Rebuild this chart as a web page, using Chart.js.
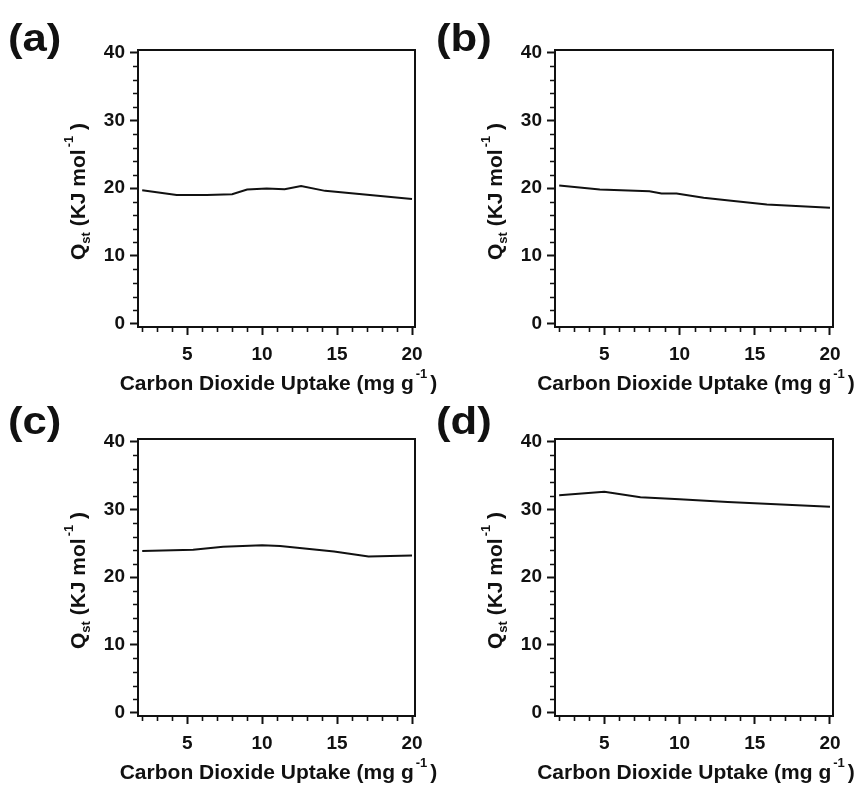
<!DOCTYPE html>
<html><head><meta charset="utf-8">
<script src="https://cdn.jsdelivr.net/npm/chart.js@4.4.0/dist/chart.umd.min.js"></script>
<style>
html,body{margin:0;padding:0;background:#fff;}
#wrap{position:relative;width:857px;height:789px;overflow:hidden;background:#fff;}
canvas{position:absolute;left:0;top:0;}
.lbl{position:absolute;font-family:"Liberation Sans",Arial,sans-serif;font-weight:bold;font-size:39px;line-height:1;color:#111;transform-origin:0 0;transform:scale(1.12,1);}
</style></head><body>
<div id="wrap">
<canvas id="ca" width="857" height="789"></canvas>
<canvas id="cb" width="857" height="789"></canvas>
<canvas id="cc" width="857" height="789"></canvas>
<canvas id="cd" width="857" height="789"></canvas>
<div class="lbl" style="left:8px;top:18px">(a)</div>
<div class="lbl" style="left:436px;top:18px">(b)</div>
<div class="lbl" style="left:8px;top:401px">(c)</div>
<div class="lbl" style="left:436px;top:401px">(d)</div>
</div>
<script>
// ---- data ----
const uptakeA = [2, 4.3, 6.3, 8.0, 9.0, 10.3, 11.5, 12.6, 14.2, 20];
const qstA    = [19.7, 19.0, 19.0, 19.1, 19.8, 19.95, 19.85, 20.3, 19.6, 18.4];

const uptakeB = [2, 4.7, 8.0, 8.8, 9.8, 11.6, 13.6, 15.8, 20];
const qstB    = [20.4, 19.8, 19.55, 19.2, 19.2, 18.6, 18.1, 17.6, 17.1];

const uptakeC = [2, 5.4, 7.4, 10, 11.2, 14.8, 17.1, 20];
const qstC    = [23.85, 24.05, 24.5, 24.7, 24.6, 23.8, 23.05, 23.2];

const uptakeD = [2, 5, 7.4, 10, 13.2, 20];
const qstD    = [32.1, 32.6, 31.8, 31.5, 31.1, 30.4];

const xMajorTicks = [5, 10, 15, 20];
const xMinorTicks = [2, 3, 4, 6, 7, 8, 9, 11, 12, 13, 14, 16, 17, 18, 19];
const yMajorTicks = [0, 10, 20, 30, 40];
const yMinorTicks = [2, 4, 6, 8, 12, 14, 16, 18, 22, 24, 26, 28, 32, 34, 36, 38];

const xTitle = ['Carbon Dioxide Uptake (mg g', '-1', ')'];
const yTitle = ['Q', 'st', ' (KJ mol', '-1', ' )'];

// ---- layout ----
const W = 857, H = 789;
const FONT = '"Liberation Sans", Arial, sans-serif';
const INK = '#111';
const AXW = 60, AXH = 70;
const X_MIN = 1.72, X_MAX = 20.2, Y_MIN = -0.5, Y_MAX = 40.4;

const framePlugin = {
  id: 'frame',
  afterDraw(chart) {
    const {ctx, chartArea: a, scales} = chart;
    ctx.save();
    ctx.strokeStyle = INK; ctx.lineWidth = 2;
    ctx.strokeRect(a.left, a.top, a.right - a.left, a.bottom - a.top);
    ctx.lineWidth = 1.6;
    ctx.beginPath();
    yMinorTicks.forEach(v => {
      const py = Math.round(scales.y.getPixelForValue(v)) + 0.5;
      ctx.moveTo(a.left - 5, py); ctx.lineTo(a.left, py);
    });
    xMinorTicks.forEach(v => {
      const px = Math.round(scales.x.getPixelForValue(v)) + 0.5;
      ctx.moveTo(px, a.bottom); ctx.lineTo(px, a.bottom + 5);
    });
    ctx.stroke();
    ctx.fillStyle = INK;
    ctx.textBaseline = 'alphabetic';
    ctx.textAlign = 'left';
    // x title
    const xParts = [
      {t: xTitle[0], s: 21, dy: 0, g: 2},
      {t: xTitle[1], s: 13, dy: -12, g: 3},
      {t: xTitle[2], s: 21, dy: 0, g: 0}
    ];
    drawRich(ctx, xParts, (a.left + a.right) / 2 + 2, a.bottom + 63);
    // y title
    const yParts = [
      {t: yTitle[0], s: 21, dy: 0, g: 0},
      {t: yTitle[1], s: 13, dy: 5, g: 0},
      {t: yTitle[2], s: 21, dy: 0, g: 2},
      {t: yTitle[3], s: 13, dy: -12, g: 0},
      {t: yTitle[4], s: 21, dy: 0, g: 0}
    ];
    ctx.translate(a.left - 53, (a.top + a.bottom) / 2 + 3);
    ctx.rotate(-Math.PI / 2);
    drawRich(ctx, yParts, 0, 0);
    ctx.restore();
  }
};

function drawRich(ctx, parts, cx, by) {
  let total = 0;
  parts.forEach(p => { ctx.font = `bold ${p.s}px ${FONT}`; p.w = ctx.measureText(p.t).width; total += p.w + p.g; });
  let x = cx - total / 2;
  parts.forEach(p => { ctx.font = `bold ${p.s}px ${FONT}`; ctx.fillText(p.t, x, by + p.dy); x += p.w + p.g; });
}

function makeChart(id, xs, ys, area) {
  const pts = xs.map((x, i) => ({x: x, y: ys[i]}));
  return new Chart(document.getElementById(id), {
    type: 'line',
    data: {datasets: [{data: pts, borderColor: INK, borderWidth: 2, pointRadius: 0, tension: 0, fill: false}]},
    options: {
      responsive: false, animation: false, events: [],
      layout: {padding: {left: area.left - AXW, top: area.top, right: W - area.right, bottom: H - area.bottom - AXH}},
      plugins: {legend: {display: false}, tooltip: {enabled: false}, title: {display: false}},
      scales: {
        x: {
          type: 'linear', min: X_MIN, max: X_MAX,
          afterBuildTicks: s => { s.ticks = xMajorTicks.map(v => ({value: v})); },
          afterFit: s => { s.height = AXH; },
          grid: {drawOnChartArea: false, drawTicks: true, tickLength: 8, tickWidth: 2, tickColor: INK},
          border: {display: false},
          ticks: {color: INK, font: {family: FONT, size: 19, weight: 'bold'}, padding: 8, maxRotation: 0, autoSkip: false}
        },
        y: {
          type: 'linear', min: Y_MIN, max: Y_MAX,
          afterBuildTicks: s => { s.ticks = yMajorTicks.map(v => ({value: v})); },
          afterFit: s => { s.width = AXW; },
          grid: {drawOnChartArea: false, drawTicks: true, tickLength: 8, tickWidth: 2, tickColor: INK},
          border: {display: false},
          ticks: {color: INK, font: {family: FONT, size: 19, weight: 'bold'}, padding: 5, autoSkip: false}
        }
      }
    },
    plugins: [framePlugin]
  });
}

makeChart('ca', uptakeA, qstA, {left: 138, top: 50, right: 415, bottom: 327});
makeChart('cb', uptakeB, qstB, {left: 555, top: 50, right: 833, bottom: 327});
makeChart('cc', uptakeC, qstC, {left: 138, top: 439, right: 415, bottom: 716});
makeChart('cd', uptakeD, qstD, {left: 555, top: 439, right: 833, bottom: 716});
</script>
</body></html>
